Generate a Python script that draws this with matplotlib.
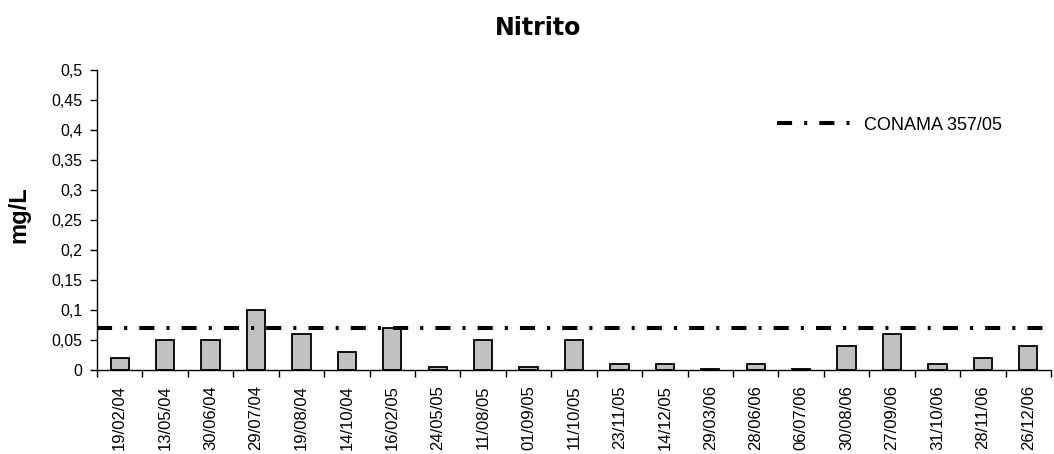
import numpy as np
import matplotlib

matplotlib.use('Agg')

import matplotlib.pyplot as plt

plt.rcParams['font.family'] = ['Liberation Sans', 'DejaVu Sans']

# data
dates = ['19/02/04', '13/05/04', '30/06/04', '29/07/04', '19/08/04', '14/10/04',
         '16/02/05', '24/05/05', '11/08/05', '01/09/05', '11/10/05', '23/11/05',
         '14/12/05', '29/03/06', '28/06/06', '06/07/06', '30/08/06', '27/09/06',
         '31/10/06', '28/11/06', '26/12/06']
nitrito = [0.02, 0.05, 0.05, 0.10, 0.06, 0.03,
           0.07, 0.005, 0.05, 0.005, 0.05, 0.01,
           0.01, 0.002, 0.01, 0.002, 0.04, 0.06,
           0.01, 0.02, 0.04]
conama_limit = 0.07
yticks = [0, 0.05, 0.1, 0.15, 0.2, 0.25, 0.3, 0.35, 0.4, 0.45, 0.5]

W, H = 1054, 454
fig = plt.figure(figsize=(W / 100, H / 100), dpi=100)
ax = fig.add_axes([97 / W, 1 - 370 / H, (1051 - 97) / W, 300 / H])

x = np.arange(len(dates))
ax.bar(x, nitrito, width=0.4, color='#c0c0c0', edgecolor='black',
       linewidth=1.3, zorder=2)

ax.axhline(conama_limit, color='black', linewidth=2.9,
           linestyle=(0, (3.75, 3.0, 0.75, 3.0)), zorder=3,
           label='CONAMA 357/05')

ax.set_xlim(-0.5, len(dates) - 0.5)
ax.set_ylim(0, 0.5)

# category ticks sit between the bars, labels under the bars
ax.set_xticks(np.arange(len(dates) + 1) - 0.5)
ax.set_xticklabels([])
ax.set_xticks(x, minor=True)
ax.set_xticklabels(dates, minor=True, rotation=90, fontsize=12)
ax.tick_params(axis='x', which='major', direction='out', length=5, width=1.0)
ax.tick_params(axis='x', which='minor', length=0, pad=11)

ax.set_yticks(yticks)
ax.set_yticklabels([('%g' % v).replace('.', ',') for v in yticks], fontsize=11.5)
ax.tick_params(axis='y', direction='out', length=5, width=1.0, pad=5.5)

for s in ['top', 'right']:
    ax.spines[s].set_visible(False)
for s in ['left', 'bottom']:
    ax.spines[s].set_linewidth(1.0)

fig.text(538 / W, 1 - 35 / H, 'Nitrito', fontsize=17, fontweight='bold',
         family='DejaVu Sans', ha='center', va='baseline')
fig.text(19 / W, 1 - 215 / H, 'mg/L', fontsize=17, fontweight='bold',
         rotation=90, ha='center', va='center')

ax.legend(loc='center left', bbox_to_anchor=(770 / W, 1 - 125 / H),
          bbox_transform=fig.transFigure, frameon=False, fontsize=13,
          handlelength=4.2, handletextpad=0.6, borderaxespad=0)

fig.savefig('out.png', dpi=100)
